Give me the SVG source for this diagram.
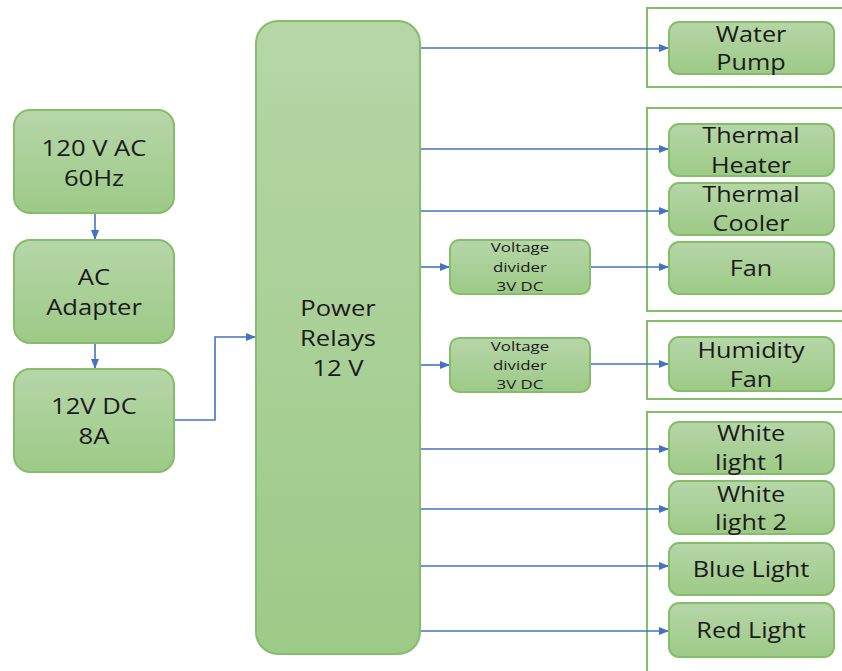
<svg xmlns="http://www.w3.org/2000/svg" width="842" height="671" viewBox="0 0 842 671">
<defs>
<linearGradient id="g" x1="0" y1="0" x2="0" y2="1">
<stop offset="0" stop-color="#b6d6a8"/>
<stop offset="1" stop-color="#9dca87"/>
</linearGradient>
<marker id="a" viewBox="0 0 10 10" refX="10" refY="5" markerWidth="10" markerHeight="10" markerUnits="userSpaceOnUse" orient="auto">
<path d="M0,1 L10,5 L0,9 z" fill="#4472c4"/>
</marker>
<style>
.n{fill:url(#g);stroke:#86bd68;stroke-width:2}
.grp{fill:none;stroke:#86bd68;stroke-width:2}
.t{font-family:"Open Sans","DejaVu Sans",sans-serif;font-size:21px;fill:#1a1a1a;text-anchor:middle}
.s{font-family:"Open Sans","DejaVu Sans",sans-serif;font-size:13.5px;fill:#1a1a1a;text-anchor:middle}
.c{fill:none;stroke:#4472c4;stroke-width:1.6;marker-end:url(#a)}
</style>
</defs>
<rect width="842" height="671" fill="#ffffff"/>
<g id="groups">
<rect class="grp" x="647" y="8" width="210" height="79"/>
<rect class="grp" x="647" y="108" width="210" height="203"/>
<rect class="grp" x="647" y="321" width="210" height="78"/>
<rect class="grp" x="647" y="412" width="210" height="270"/>
</g>
<g id="connectors">
<path class="c" d="M95,213 V240"/>
<path class="c" d="M95,343 V369"/>
<path class="c" d="M174,420 H215 V337 H256"/>
<path class="c" d="M420,48 H669"/>
<path class="c" d="M420,149 H669"/>
<path class="c" d="M420,211 H669"/>
<path class="c" d="M420,267 H450"/>
<path class="c" d="M590,267 H669"/>
<path class="c" d="M420,365 H450"/>
<path class="c" d="M590,364 H669"/>
<path class="c" d="M420,449 H669"/>
<path class="c" d="M420,509 H669"/>
<path class="c" d="M420,566 H669"/>
<path class="c" d="M420,631 H669"/>
</g>
<g id="ac">
<rect class="n" x="14" y="110" width="160" height="103" rx="16"/>
<text class="t" transform="translate(94 0) scale(1.22 1)"><tspan x="0" y="156">120 V AC</tspan><tspan x="0" y="186">60Hz</tspan></text>
</g>
<g id="adapter">
<rect class="n" x="14" y="240" width="160" height="103" rx="16"/>
<text class="t" transform="translate(94 0) scale(1.22 1)"><tspan x="0" y="285">AC</tspan><tspan x="0" y="315">Adapter</tspan></text>
</g>
<g id="dc">
<rect class="n" x="14" y="369" width="160" height="103" rx="16"/>
<text class="t" transform="translate(94 0) scale(1.22 1)"><tspan x="0" y="414">12V DC</tspan><tspan x="0" y="444">8A</tspan></text>
</g>
<g id="relays">
<rect class="n" x="256" y="21" width="164" height="633" rx="22"/>
<text class="t" transform="translate(338 0) scale(1.22 1)"><tspan x="0" y="316">Power</tspan><tspan x="0" y="346">Relays</tspan><tspan x="0" y="376">12 V</tspan></text>
</g>
<g id="divider1">
<rect class="n" x="450" y="240" width="140" height="54" rx="9"/>
<text class="s" transform="translate(520 0) scale(1.25 1)"><tspan x="0" y="252">Voltage</tspan><tspan x="0" y="272">divider</tspan><tspan x="0" y="291">3V DC</tspan></text>
</g>
<g id="divider2">
<rect class="n" x="450" y="338" width="140" height="54" rx="9"/>
<text class="s" transform="translate(520 0) scale(1.25 1)"><tspan x="0" y="351">Voltage</tspan><tspan x="0" y="370">divider</tspan><tspan x="0" y="389">3V DC</tspan></text>
</g>
<g id="pump">
<rect class="n" x="669" y="22" width="165" height="52" rx="10"/>
<text class="t" transform="translate(751 0) scale(1.2 1)"><tspan x="0" y="42">Water</tspan><tspan x="0" y="70">Pump</tspan></text>
</g>
<g id="heater">
<rect class="n" x="669" y="124" width="165" height="52" rx="10"/>
<text class="t" transform="translate(751 0) scale(1.2 1)"><tspan x="0" y="143">Thermal</tspan><tspan x="0" y="173">Heater</tspan></text>
</g>
<g id="cooler">
<rect class="n" x="669" y="183" width="165" height="52" rx="10"/>
<text class="t" transform="translate(751 0) scale(1.2 1)"><tspan x="0" y="202">Thermal</tspan><tspan x="0" y="231">Cooler</tspan></text>
</g>
<g id="fan">
<rect class="n" x="669" y="242" width="165" height="52" rx="10"/>
<text class="t" transform="translate(751 0) scale(1.2 1)"><tspan x="0" y="276">Fan</tspan></text>
</g>
<g id="humidity">
<rect class="n" x="669" y="337" width="165" height="54" rx="10"/>
<text class="t" transform="translate(751 0) scale(1.2 1)"><tspan x="0" y="358">Humidity</tspan><tspan x="0" y="387">Fan</tspan></text>
</g>
<g id="white1">
<rect class="n" x="669" y="422" width="165" height="52" rx="10"/>
<text class="t" transform="translate(751 0) scale(1.2 1)"><tspan x="0" y="441">White</tspan><tspan x="0" y="470">light 1</tspan></text>
</g>
<g id="white2">
<rect class="n" x="669" y="481" width="165" height="53" rx="10"/>
<text class="t" transform="translate(751 0) scale(1.2 1)"><tspan x="0" y="502">White</tspan><tspan x="0" y="530">light 2</tspan></text>
</g>
<g id="blue">
<rect class="n" x="669" y="543" width="165" height="52" rx="10"/>
<text class="t" transform="translate(751 0) scale(1.2 1)"><tspan x="0" y="577">Blue Light</tspan></text>
</g>
<g id="red">
<rect class="n" x="669" y="603" width="165" height="54" rx="10"/>
<text class="t" transform="translate(751 0) scale(1.2 1)"><tspan x="0" y="638">Red Light</tspan></text>
</g>
</svg>
